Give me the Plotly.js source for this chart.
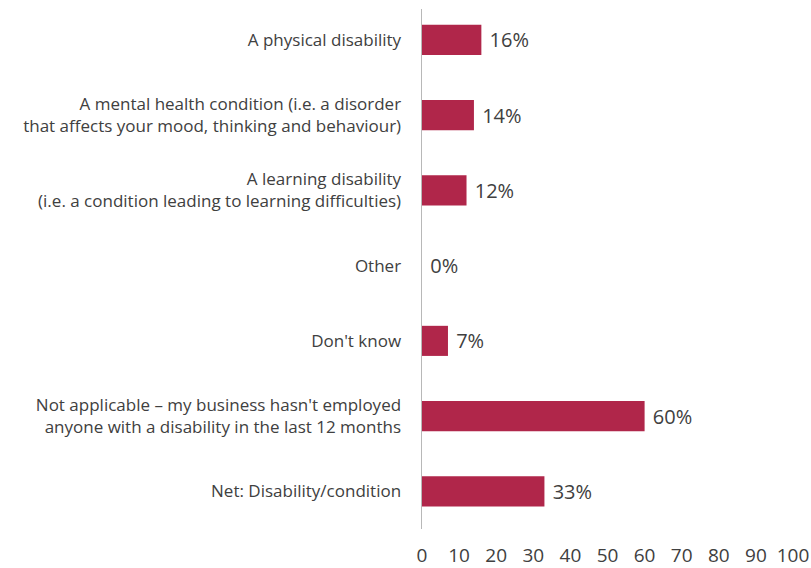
<!DOCTYPE html>
<html><head><meta charset="utf-8">
<script src="https://cdn.plot.ly/plotly-3.0.1.min.js"></script>
<style>html,body{margin:0;padding:0;background:#fff}</style>
</head><body>
<div id="chart" style="width:811px;height:568px"></div>
<script>
const categories = [
  "A physical disability",
  "A mental health condition (i.e. a disorder<br>that affects your mood, thinking and behaviour)",
  "A learning disability<br>(i.e. a condition leading to learning difficulties)",
  "Other",
  "Don't know",
  "Not applicable – my business hasn't employed<br>anyone with a disability in the last 12 months",
  "Net: Disability/condition"
];
const values = [16, 14, 12, 0, 7, 60, 33];
const tickVals = [0, 10, 20, 30, 40, 50, 60, 70, 80, 90, 100];

const trace = {
  type: 'bar',
  orientation: 'h',
  y: categories,
  x: values,
  marker: {color: '#b0264a'},
  width: 0.4,
  text: values.map(v => ' ' + v + '%'),
  textposition: 'outside',
  cliponaxis: false,
  textfont: {family: 'Open Sans', size: 20, color: '#404040'},
  hoverinfo: 'none'
};
const layout = {
  width: 811, height: 568,
  margin: {l: 422, r: 18, t: 9, b: 39},
  paper_bgcolor: '#fff', plot_bgcolor: '#fff',
  showlegend: false,
  font: {family: 'Open Sans', color: '#404040'},
  xaxis: {
    range: [0, 100], tickvals: tickVals, ticks: '', showgrid: false, zeroline: false,
    showline: false, tickfont: {size: 19, color: '#404040'}, ticklabelstandoff: 13,
    fixedrange: true
  },
  yaxis: {
    type: 'category', range: [6.5, -0.41], ticks: '', showgrid: false, zeroline: false,
    showline: true, linecolor: '#b8b8b8', linewidth: 1.5,
    tickfont: {size: 17, color: '#404040'}, ticklabelstandoff: 16, fixedrange: true
  }
};
Plotly.newPlot('chart', [trace], layout, {displayModeBar: false, staticPlot: true});
</script>
</body></html>
